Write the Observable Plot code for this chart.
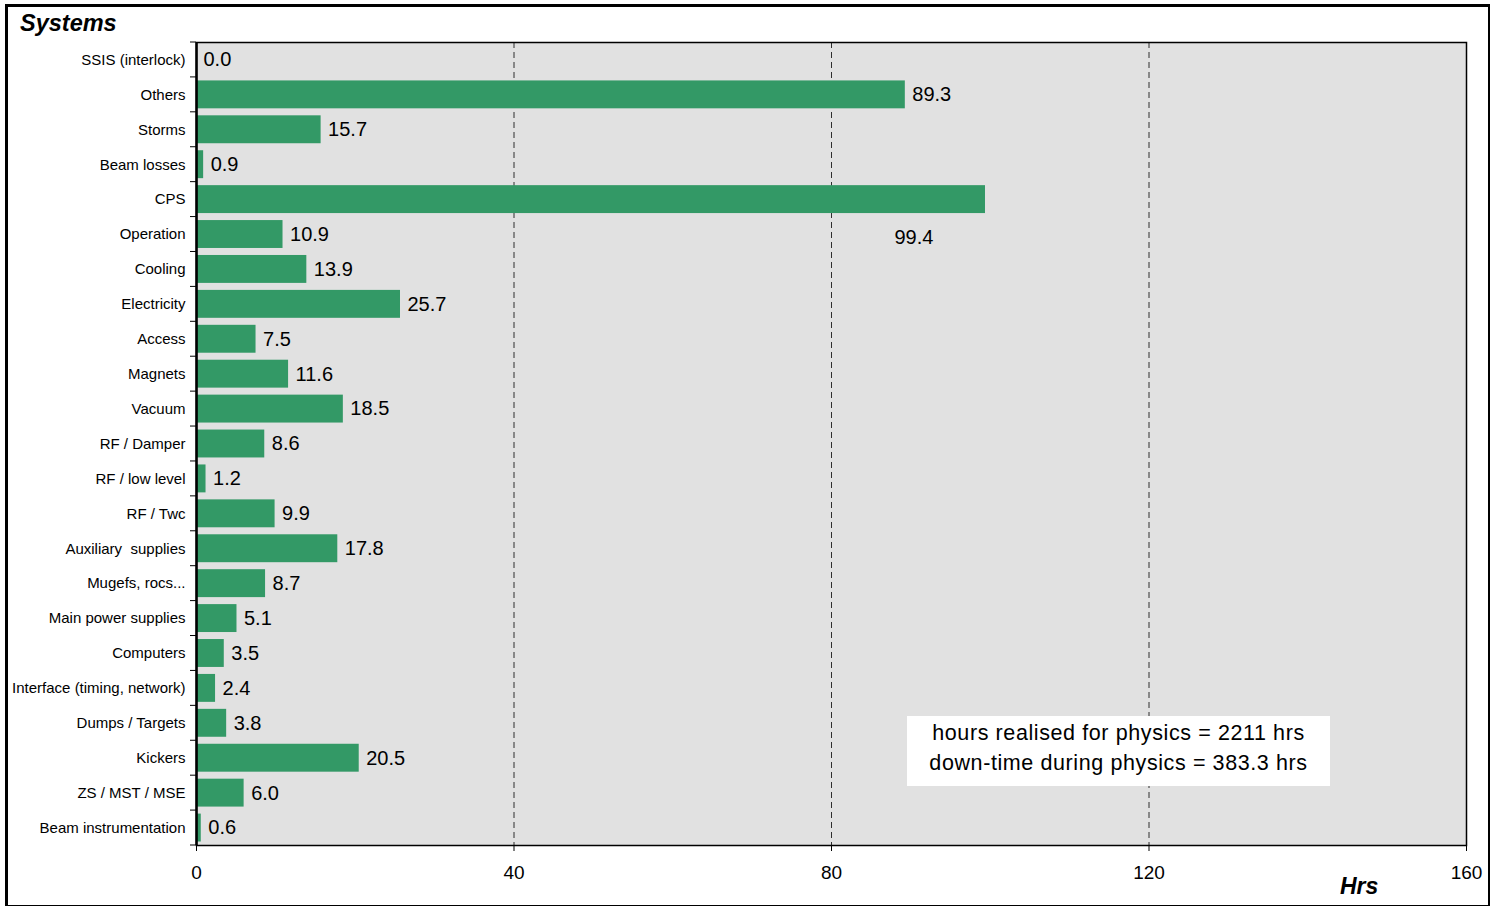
<!DOCTYPE html>
<html>
<head>
<meta charset="utf-8">
<script src="https://cdn.jsdelivr.net/npm/d3@7"></script>
<script src="https://cdn.jsdelivr.net/npm/@observablehq/plot@0.6"></script>
<style>
  html, body { margin: 0; padding: 0; background: #fff; }
  #wrap { position: relative; width: 1490px; height: 906px; font-family: "Liberation Sans", Arial, sans-serif; overflow: hidden; }
  #border { position: absolute; left: 5px; top: 4px; width: 1480px; height: 898px; border: 3px solid #000; box-sizing: content-box; pointer-events: none; }
  #title { position: absolute; left: 20px; top: 10px; font-size: 23.5px; font-weight: bold; font-style: italic; color: #000; }
  #xlabel { position: absolute; left: 1340px; top: 873px; font-size: 23px; font-weight: bold; font-style: italic; color: #000; }
  #note { position: absolute; left: 907px; top: 716px; width: 423px; height: 70px; background: #fff; font-size: 21.5px; letter-spacing: 0.6px; color: #000; text-align: center; line-height: 30px; padding-top: 2px; box-sizing: border-box; white-space: nowrap; }
  #chart { position: absolute; left: 0; top: 0; }
</style>
</head>
<body>
<div id="wrap">
  <div id="chart"></div>
  <div id="title">Systems</div>
  <div id="xlabel">Hrs</div>
  <div id="note"></div>
  <div id="border"></div>
</div>
<script>
const categories = [
  "SSIS (interlock)", "Others", "Storms", "Beam losses", "CPS", "Operation",
  "Cooling", "Electricity", "Access", "Magnets", "Vacuum", "RF / Damper",
  "RF / low level", "RF / Twc", "Auxiliary  supplies", "Mugefs, rocs...",
  "Main power supplies", "Computers", "Interface (timing, network)",
  "Dumps / Targets", "Kickers", "ZS / MST / MSE", "Beam instrumentation"
];
const hours = [
  0.0, 89.3, 15.7, 0.9, 99.4, 10.9,
  13.9, 25.7, 7.5, 11.6, 18.5, 8.6,
  1.2, 9.9, 17.8, 8.7,
  5.1, 3.5, 2.4,
  3.8, 20.5, 6.0, 0.6
];
const xTicks = [0, 40, 80, 120, 160];
const gridTicks = [40, 80, 120];
const noteLines = ["hours realised for physics = 2211 hrs", "down-time during physics = 383.3 hrs"];
const belowLabel = "CPS";

const data = categories.map((c, i) => ({ system: c, hrs: hours[i] }));
const normal = data.filter(d => d.system !== belowLabel);
const below = data.filter(d => d.system === belowLabel);

document.getElementById("note").innerHTML = noteLines.join("<br>");

const plot = Plot.plot({
  width: 1490,
  height: 906,
  marginLeft: 196,
  marginRight: 24,
  marginTop: 42,
  marginBottom: 61,
  style: { fontFamily: "'Liberation Sans', Arial, sans-serif", background: "transparent", color: "#000" },
  x: { domain: [0, 160] },
  y: { domain: categories, padding: 0, round: false },
  marks: [
    Plot.frame({ fill: "#e1e1e1" }),
    Plot.gridX(gridTicks, { stroke: "#000", strokeOpacity: 1, strokeWidth: 0.8, strokeDasharray: "6,4" }),
    Plot.barX(data, { x: "hrs", y: "system", fill: "#339966", insetTop: 3.5, insetBottom: 3.5 }),
    Plot.text(normal, { x: "hrs", y: "system", text: d => d3.format(".1f")(d.hrs), textAnchor: "start", dx: 7, fontSize: 20, fill: "#000" }),
    Plot.text(below, { x: "hrs", y: "system", text: d => d3.format(".1f")(d.hrs), textAnchor: "start", dx: -91, dy: 38, fontSize: 20, fill: "#000" }),
    Plot.axisY({ tickSize: 0, tickPadding: 11, fontSize: 15, label: null }),
    Plot.axisX({ ticks: xTicks, tickSize: 6, tickPadding: 14, fontSize: 19, label: null, tickFormat: d3.format("d") }),
    Plot.frame({ stroke: "#000", strokeWidth: 1.5 }),
    Plot.ruleX([0], { stroke: "#000", strokeWidth: 2.5 })
  ]
});

// boundary tick marks on the category axis (between bands), from the plot's own y scale
const ys = plot.scale("y");
const bw = ys.bandwidth;
const svg = d3.select(plot);
const xLeft = 196;
const bounds = categories.map(c => ys.apply(c));
bounds.push(ys.apply(categories[categories.length - 1]) + bw);
svg.append("g").selectAll("line").data(bounds).join("line")
  .attr("x1", xLeft - 6).attr("x2", xLeft)
  .attr("y1", d => d).attr("y2", d => d)
  .attr("stroke", "#000").attr("stroke-width", 1);

document.getElementById("chart").appendChild(plot);
</script>
</body>
</html>
